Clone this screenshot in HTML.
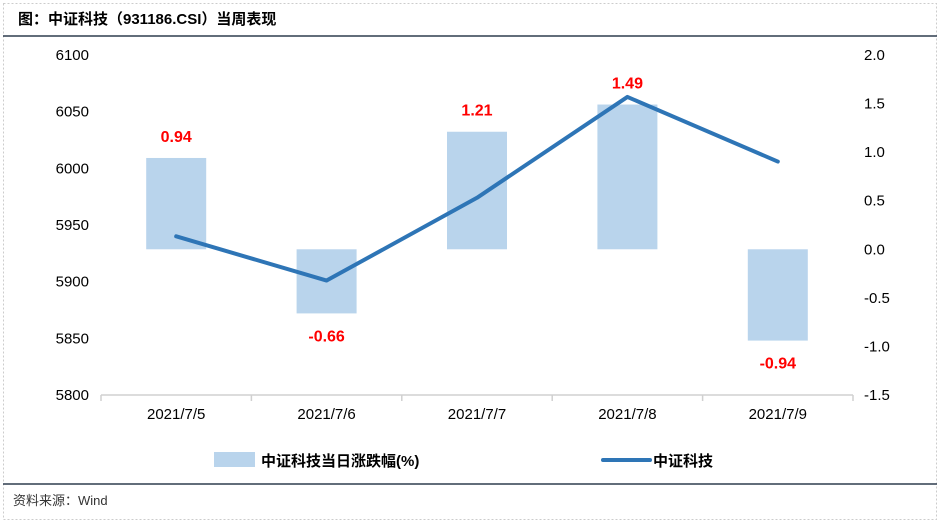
<!DOCTYPE html>
<html><head><meta charset="utf-8"><style>
body{margin:0;background:#fff;}
svg text{font-family:"Liberation Sans","Noto Sans CJK SC",sans-serif;}
</style></head><body>
<svg width="940" height="523" viewBox="0 0 940 523" xmlns="http://www.w3.org/2000/svg">
<rect x="3.5" y="3.5" width="933" height="516" fill="none" stroke="#ccc" stroke-dasharray="2,2"/>
<text x="18" y="24" font-size="15" font-weight="bold" fill="#000">图：中证科技（931186.CSI）当周表现</text>
<line x1="3" y1="36" x2="937" y2="36" stroke="#2f3d4f" stroke-width="1.5"/>
<line x1="3" y1="484" x2="937" y2="484" stroke="#2f3d4f" stroke-width="1.5"/>
<text x="13" y="505" font-size="13" fill="#333">资料来源：Wind</text>
<g id="plot"></g>
<g>
<rect x="214" y="452" width="41" height="15" fill="#b9d4ec"/>
<text x="261" y="466" font-size="15" font-weight="bold" fill="#000">中证科技当日涨跌幅(%)</text>
<line x1="603" y1="460" x2="650" y2="460" stroke="#2e75b6" stroke-width="4" stroke-linecap="round"/>
<text x="653" y="466" font-size="15" font-weight="bold" fill="#000">中证科技</text>
</g>
</svg>
<script>
const categories=["2021/7/5","2021/7/6","2021/7/7","2021/7/8","2021/7/9"];
const changePct=[0.94,-0.66,1.21,1.49,-0.94];
const indexValues=[5940,5901,5974,6063,6006];
const leftTicks=[5800,5850,5900,5950,6000,6050,6100];
const rightTicks=[-1.5,-1.0,-0.5,0.0,0.5,1.0,1.5,2.0];
const NS="http://www.w3.org/2000/svg";
const g=document.getElementById('plot');
const X0=101,X1=853,Y0=395,Y1=55;
const bw=(X1-X0)/categories.length;
const xc=i=>X0+bw*(i+0.5);
const yL=v=>Y0-(v-5800)/300*(Y0-Y1);
const yR=v=>Y0-(v+1.5)/3.5*(Y0-Y1);
function mk(t,a,txt){const e=document.createElementNS(NS,t);for(const k in a)e.setAttribute(k,a[k]);if(txt!==undefined)e.textContent=txt;g.appendChild(e);return e;}
leftTicks.forEach(v=>{const e=mk('text',{x:89,y:yL(v)+5,'font-size':15,'text-anchor':'end',fill:'#000'},String(v));

});
rightTicks.forEach(v=>{const e=mk('text',{x:864,y:yR(v)+5,'font-size':15,fill:'#000'},v.toFixed(1));

});
changePct.forEach((v,i)=>{const y0=yR(0),y=yR(v);
const r=mk('rect',{x:xc(i)-30,y:Math.min(y,y0),width:60,height:Math.abs(y-y0),fill:'#b9d4ec'});


const t=mk('text',{x:xc(i),y:v>=0?y-16:y+28,'font-size':16,'font-weight':'bold','text-anchor':'middle',fill:'#ff0000'},v.toFixed(2));

});
const ax=mk('line',{x1:X0,y1:Y0,x2:X1,y2:Y0,stroke:'#d0d0d0','stroke-width':1.5});


for(let i=0;i<=categories.length;i++){const tk=mk('line',{x1:X0+bw*i,y1:Y0,x2:X0+bw*i,y2:Y0+6,stroke:'#d0d0d0','stroke-width':1.5});

}
categories.forEach((c,i)=>{const t=mk('text',{x:xc(i),y:Y0+24,'font-size':15,'text-anchor':'middle',fill:'#000'},c);

});
const pl=mk('polyline',{points:indexValues.map((v,i)=>xc(i)+','+yL(v)).join(' '),fill:'none',stroke:'#2e75b6','stroke-width':4,'stroke-linejoin':'round','stroke-linecap':'round'});


</script>
</body></html>
